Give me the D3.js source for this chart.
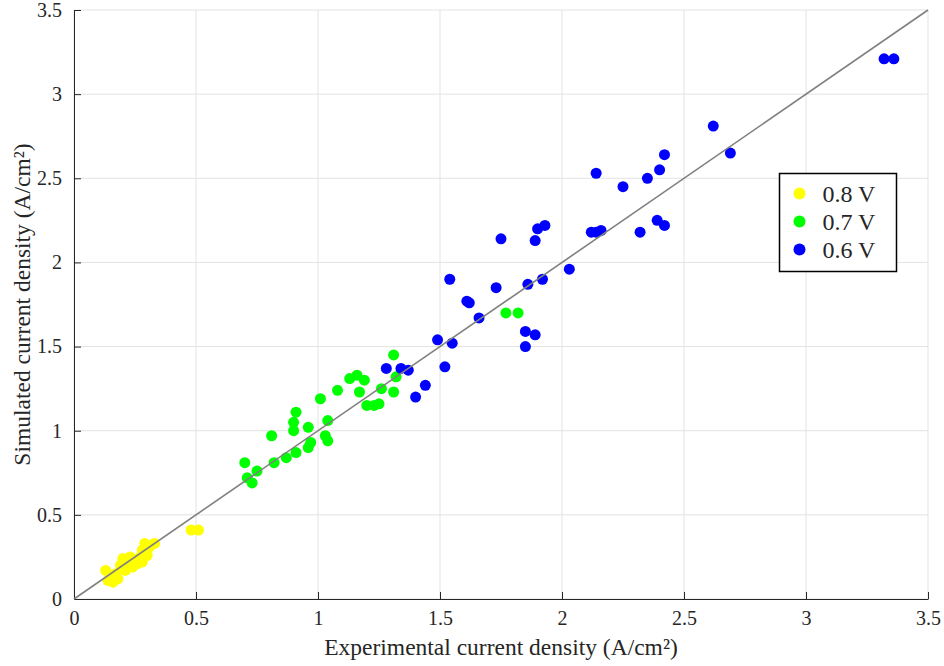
<!DOCTYPE html>
<html>
<head>
<meta charset="utf-8">
<script src="https://cdn.jsdelivr.net/npm/d3@7"></script>
<style>
  html, body { margin: 0; padding: 0; background: #ffffff; }
  svg { display: block; }
  text { font-family: "Liberation Serif", "Times New Roman", serif; fill: #262626; }
</style>
</head>
<body>
<script>
// Experimental vs simulated current density (A/cm²), grouped by cell voltage
const seriesNames = ["0.8 V", "0.7 V", "0.6 V"];
const seriesColors = ["#ffff00", "#00ff00", "#0000ff"];

const points08V = [
  [0.13, 0.17], [0.14, 0.11], [0.15, 0.13], [0.16, 0.10], [0.17, 0.15],
  [0.18, 0.12], [0.19, 0.20], [0.20, 0.24], [0.21, 0.17], [0.22, 0.22],
  [0.23, 0.25], [0.24, 0.19], [0.25, 0.23], [0.26, 0.21], [0.27, 0.25],
  [0.28, 0.22], [0.28, 0.29], [0.29, 0.33], [0.30, 0.26], [0.31, 0.31],
  [0.33, 0.33], [0.48, 0.41], [0.51, 0.41]
];

const points07V = [
  [1.31, 1.45], [1.13, 1.31], [1.16, 1.33], [1.19, 1.30], [1.08, 1.24],
  [1.17, 1.23], [1.26, 1.25], [1.32, 1.32], [1.31, 1.23], [1.20, 1.15],
  [1.23, 1.15], [1.25, 1.16], [1.01, 1.19], [0.91, 1.11], [0.90, 1.05],
  [0.90, 1.00], [1.04, 1.06], [0.96, 1.02], [0.81, 0.97], [1.03, 0.97],
  [1.04, 0.94], [0.97, 0.93], [0.96, 0.90], [0.91, 0.87], [0.87, 0.84],
  [0.82, 0.81], [0.70, 0.81], [0.75, 0.76], [0.71, 0.72], [0.73, 0.69],
  [1.77, 1.70], [1.82, 1.70]
];

const points06V = [
  [1.28, 1.37], [1.34, 1.37], [1.37, 1.36], [1.44, 1.27], [1.40, 1.20],
  [1.49, 1.54], [1.55, 1.52], [1.52, 1.38], [1.54, 1.90], [1.61, 1.77],
  [1.62, 1.76], [1.66, 1.67], [1.73, 1.85], [1.75, 2.14], [1.86, 1.87],
  [1.92, 1.90], [1.85, 1.59], [1.89, 1.57], [1.85, 1.50], [1.89, 2.13],
  [1.90, 2.20], [1.93, 2.22], [2.03, 1.96], [2.12, 2.18], [2.14, 2.18],
  [2.16, 2.19], [2.14, 2.53], [2.25, 2.45], [2.32, 2.18], [2.35, 2.50],
  [2.40, 2.55], [2.39, 2.25], [2.42, 2.22], [2.42, 2.64], [2.62, 2.81],
  [2.69, 2.65], [3.32, 3.21], [3.36, 3.21]
];

const xTicks = [0, 0.5, 1, 1.5, 2, 2.5, 3, 3.5];
const yTicks = [0, 0.5, 1, 1.5, 2, 2.5, 3, 3.5];
const xLabel = "Experimental current density (A/cm²)";
const yLabel = "Simulated current density (A/cm²)";

const series = [points08V, points07V, points06V];

const W = 944, H = 666;
const margin = { left: 74, right: 16, top: 10, bottom: 67 };
const innerW = W - margin.left - margin.right;
const innerH = H - margin.top - margin.bottom;

const x = d3.scaleLinear().domain([0, 3.5]).range([0, innerW]);
const y = d3.scaleLinear().domain([0, 3.5]).range([innerH, 0]);

const serif = '"Liberation Serif", "Times New Roman", serif';

const svg = d3.select("body").append("svg").attr("width", W).attr("height", H);
const g = svg.append("g").attr("transform", `translate(${margin.left},${margin.top})`);

// grid
g.append("g").selectAll("line").data(xTicks).join("line")
  .attr("x1", d => x(d)).attr("x2", d => x(d))
  .attr("y1", 0).attr("y2", innerH)
  .attr("stroke", "#e3e3e3").attr("stroke-width", 1);
g.append("g").selectAll("line").data(yTicks).join("line")
  .attr("x1", 0).attr("x2", innerW)
  .attr("y1", d => y(d)).attr("y2", d => y(d))
  .attr("stroke", "#e3e3e3").attr("stroke-width", 1);

// axes (ticks pointing inward)
const xAxis = d3.axisBottom(x).tickValues(xTicks).tickSizeInner(-7).tickSizeOuter(0)
  .tickPadding(12).tickFormat(d3.format("~g"));
const yAxis = d3.axisLeft(y).tickValues(yTicks).tickSizeInner(-7).tickSizeOuter(0)
  .tickPadding(12).tickFormat(d3.format("~g"));

const gx = g.append("g").attr("transform", `translate(0,${innerH})`).call(xAxis);
const gy = g.append("g").call(yAxis);
[gx, gy].forEach(a => {
  a.attr("font-family", serif).attr("font-size", 20);
  a.select(".domain").attr("stroke", "#262626").attr("stroke-width", 1);
  a.selectAll(".tick line").attr("stroke", "#262626");
  a.selectAll(".tick text").attr("fill", "#262626");
});
gx.selectAll(".tick text").attr("dy", "0.71em");

// points
series.forEach((pts, i) => {
  g.append("g").selectAll("circle").data(pts).join("circle")
    .attr("cx", d => x(d[0])).attr("cy", d => y(d[1]))
    .attr("r", 5.5).attr("fill", seriesColors[i]);
});

// y = x reference line
g.append("line")
  .attr("x1", x(0)).attr("y1", y(0)).attr("x2", x(3.5)).attr("y2", y(3.5))
  .attr("stroke", "#808080").attr("stroke-width", 1.6);

// axis titles
svg.append("text")
  .attr("x", margin.left + innerW / 2).attr("y", 655)
  .attr("text-anchor", "middle").style("font-size", "23.5px")
  .text(xLabel);
svg.append("text")
  .attr("transform", `translate(30,${margin.top + innerH / 2}) rotate(-90)`)
  .attr("text-anchor", "middle").style("font-size", "23.5px")
  .text(yLabel);

// legend
const lg = svg.append("g").attr("transform", "translate(779.5,173.5)");
lg.append("rect").attr("width", 117).attr("height", 98)
  .attr("fill", "#ffffff").attr("stroke", "#000000").attr("stroke-width", 1.5);
seriesNames.forEach((name, i) => {
  const row = lg.append("g").attr("transform", `translate(0,${20 + i * 28})`);
  row.append("circle").attr("cx", 20).attr("cy", 0).attr("r", 6).attr("fill", seriesColors[i]);
  row.append("text").attr("x", 43).attr("y", 0).attr("dy", "0.35em")
    .style("font-size", "24px").attr("fill", "#000000").text(name);
});
</script>
</body>
</html>
